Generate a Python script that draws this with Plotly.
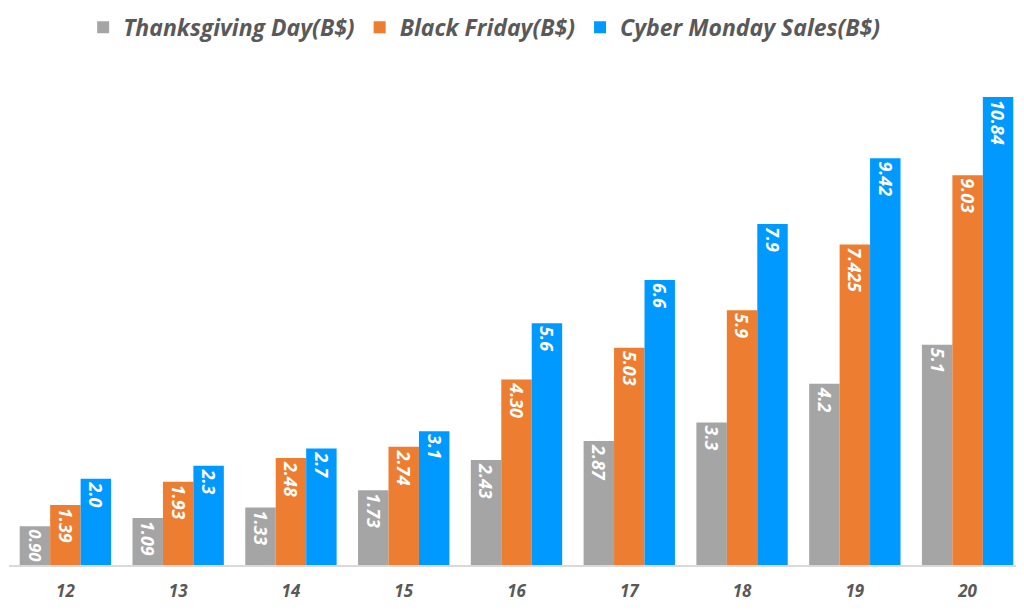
import plotly.graph_objects as go

categories = ["12", "13", "14", "15", "16", "17", "18", "19", "20"]
thanksgiving = [0.90, 1.09, 1.33, 1.73, 2.43, 2.87, 3.3, 4.2, 5.1]
black_friday = [1.39, 1.93, 2.48, 2.74, 4.30, 5.03, 5.9, 7.425, 9.03]
cyber_monday = [2.0, 2.3, 2.7, 3.1, 5.6, 6.6, 7.9, 9.42, 10.84]
thanksgiving_labels = ["0.90", "1.09", "1.33", "1.73", "2.43", "2.87", "3.3", "4.2", "5.1"]
black_friday_labels = ["1.39", "1.93", "2.48", "2.74", "4.30", "5.03", "5.9", "7.425", "9.03"]
cyber_monday_labels = ["2.0", "2.3", "2.7", "3.1", "5.6", "6.6", "7.9", "9.42", "10.84"]

FONT = "Open Sans, sans-serif"

series = [
    ("Thanksgiving Day(B$)", thanksgiving, thanksgiving_labels, "#A5A5A5"),
    ("Black Friday(B$)", black_friday, black_friday_labels, "#ED7D31"),
    ("Cyber Monday Sales(B$)", cyber_monday, cyber_monday_labels, "#0099FF"),
]

fig = go.Figure()
for name, vals, labels, color in series:
    fig.add_trace(go.Bar(
        name=name, x=categories, y=vals, text=labels,
        marker=dict(color=color, line=dict(width=0)),
        textposition="inside", insidetextanchor="end", textangle=90,
        textfont=dict(family=FONT, size=19, color="white", weight="bold", style="italic"),
        constraintext="inside",
        hoverinfo="skip",
    ))

fig.update_layout(
    width=1024, height=616,
    margin=dict(l=1, r=8, t=39, b=59, autoexpand=False),
    paper_bgcolor="white", plot_bgcolor="white",
    barmode="group", bargap=0.19, bargroupgap=0,
    showlegend=True,
    legend=dict(orientation="h", x=0.465, xanchor="center", xref="container",
                y=1.038, yanchor="middle", yref="paper",
                font=dict(family=FONT, size=23, color="#595959", weight="bold", style="italic"),
                tracegroupgap=0),
    xaxis=dict(showline=True, linecolor="#D9D9D9", linewidth=1.5, ticks="", showgrid=False,
               automargin=False, ticklabelstandoff=10,
               tickfont=dict(family=FONT, size=17, color="#595959", weight="bold", style="italic")),
    yaxis=dict(range=[0, 12], visible=False, showgrid=False, zeroline=False, automargin=False),
)

fig.write_html("out.html")
